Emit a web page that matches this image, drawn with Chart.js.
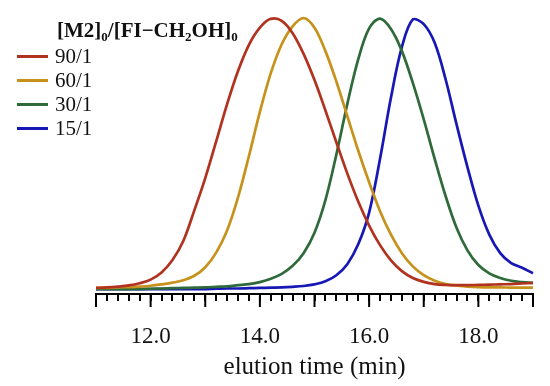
<!DOCTYPE html>
<html>
<head>
  <title>GPC traces</title>
  <script src="https://cdn.jsdelivr.net/npm/chart.js"></script>
  <style>
    body { margin: 0; background: #fff; }
    #wrap { position: relative; width: 550px; height: 386px; }
    #legend { position: absolute; left: 0; top: 0; font-family: "Liberation Serif", serif; font-size: 21px; color: #111; }
    #legend .title { position: absolute; left: 57px; top: 18px; font-weight: bold; white-space: nowrap; }
    #legend .title sub { font-size: 13px; vertical-align: -4px; line-height: 0; }
    #legend .item { position: absolute; left: 17px; height: 24px; white-space: nowrap; }
    #legend .item span { display: inline-block; width: 31px; height: 3px; vertical-align: middle; margin-right: 7px; position: relative; top: -2px; }
  </style>
</head>
<body>
  <div id="wrap">
    <canvas id="chart" width="550" height="386"></canvas>
    <div id="legend">
      <div class="title">[M2]<sub>0</sub>/[FI&minus;CH<sub>2</sub>OH]<sub>0</sub></div>
    </div>
  </div>
<script>
// elution time grid (min)
var times = [];
for (var i = 0; i <= 40; i++) times.push(+(11 + i * 0.2).toFixed(1));

var seriesNames = ['90/1', '60/1', '30/1', '15/1'];
var seriesColors = ['#b1321f', '#c7921c', '#2e6a3a', '#1717b5'];

// normalized detector response
var ratio90 = [0.022,0.024,0.027,0.031,0.039,0.052,0.078,0.123,0.193,0.303,
  0.420,0.553,0.688,0.808,0.903,0.965,0.997,0.990,0.945,0.870,
  0.775,0.665,0.550,0.437,0.335,0.248,0.177,0.122,0.083,0.058,
  0.044,0.036,0.033,0.032,0.032,0.033,0.034,0.035,0.036,0.038,0.040];
var ratio60 = [0.022,0.022,0.024,0.025,0.027,0.030,0.035,0.041,0.050,0.066,
  0.097,0.150,0.230,0.350,0.500,0.660,0.800,0.905,0.970,1.000,
  0.965,0.880,0.770,0.645,0.520,0.405,0.300,0.215,0.148,0.100,
  0.068,0.048,0.036,0.030,0.027,0.025,0.024,0.024,0.023,0.023,0.023];
var ratio30 = [0.018,0.018,0.018,0.018,0.018,0.019,0.020,0.021,0.022,0.023,
  0.024,0.026,0.028,0.032,0.036,0.043,0.055,0.073,0.102,0.148,
  0.222,0.340,0.505,0.688,0.850,0.962,0.998,0.960,0.880,0.765,
  0.633,0.490,0.355,0.240,0.158,0.105,0.075,0.058,0.048,0.043,0.040];
var ratio15 = [0.018,0.018,0.018,0.018,0.018,0.018,0.018,0.018,0.018,0.018,
  0.018,0.019,0.020,0.020,0.021,0.022,0.023,0.024,0.026,0.029,
  0.035,0.046,0.068,0.108,0.180,0.295,0.490,0.712,0.895,0.995,
  0.978,0.910,0.778,0.615,0.460,0.320,0.215,0.148,0.112,0.095,0.075];

var seriesValues = [ratio90, ratio60, ratio30, ratio15];
var labelTicks = [12, 14, 16, 18];

var datasets = seriesValues.map(function (vals, k) {
  return {
    label: seriesNames[k],
    data: vals.map(function (v, j) { return { x: times[j], y: v }; }),
    borderColor: seriesColors[k],
    borderWidth: 2.7,
    pointRadius: 0,
    tension: 0.35,
    fill: false,
    clip: false
  };
});

// longer tick marks at every whole minute
var majorTicks = {
  id: 'majorTicks',
  afterDraw: function (chart) {
    var s = chart.scales.x;
    var ctx = chart.ctx;
    ctx.save();
    ctx.strokeStyle = '#000';
    ctx.lineWidth = 2;
    for (var t = 11; t <= 19; t++) {
      var px = s.getPixelForValue(t);
      ctx.beginPath();
      ctx.moveTo(px, s.top);
      ctx.lineTo(px, s.top + 13);
      ctx.stroke();
    }
    ctx.restore();
  }
};

new Chart(document.getElementById('chart'), {
  type: 'line',
  data: { datasets: datasets },
  options: {
    responsive: false,
    animation: false,
    layout: { padding: { left: 96, right: 17, top: 18, bottom: 4 } },
    plugins: { legend: { display: false }, tooltip: { enabled: false } },
    scales: {
      x: {
        type: 'linear',
        min: 11,
        max: 19,
        border: { display: true, color: '#000', width: 2 },
        grid: { display: true, drawOnChartArea: false, drawTicks: true, tickLength: 7, tickColor: '#000', lineWidth: 2 },
        afterFit: function (scale) {
          scale.height = 88;
          scale.paddingLeft = 0;
          scale.paddingRight = 0;
        },
        ticks: {
          stepSize: 0.2,
          maxTicksLimit: 100,
          autoSkip: false,
          maxRotation: 0,
          padding: 22,
          color: '#111',
          font: { family: 'Liberation Serif', size: 23 },
          callback: function (value) {
            var r = Math.round(value);
            if (Math.abs(value - r) < 1e-6 && labelTicks.indexOf(r) >= 0) return r.toFixed(1);
            return '';
          }
        },
        title: {
          display: true,
          text: 'elution time (min)',
          color: '#111',
          font: { family: 'Liberation Serif', size: 25 },
          padding: { top: 0, bottom: 0 }
        }
      },
      y: { display: false, min: 0, max: 1 }
    }
  },
  plugins: [majorTicks]
});

var legend = document.getElementById('legend');
seriesNames.forEach(function (name, k) {
  var d = document.createElement('div');
  d.className = 'item';
  d.style.top = (44 + k * 24) + 'px';
  d.innerHTML = '<span style="background:' + seriesColors[k] + '"></span>' + name;
  legend.appendChild(d);
});
</script>
</body>
</html>
